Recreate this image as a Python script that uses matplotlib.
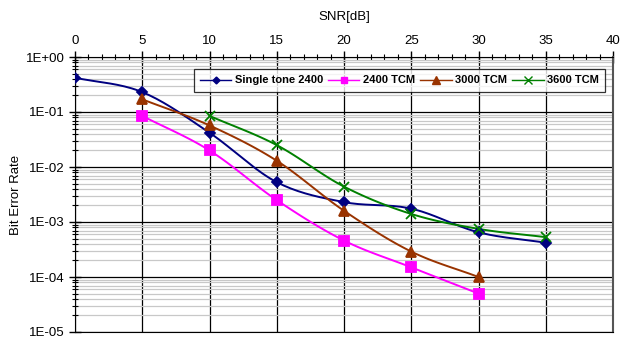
import numpy as np
import matplotlib.pyplot as plt
from matplotlib.ticker import MultipleLocator, LogLocator, FuncFormatter, NullFormatter

plt.rcParams['font.family'] = ['Liberation Sans', 'DejaVu Sans']

# values
snr = [0, 5, 10, 15, 20, 25, 30, 35]
single_2400 = [0.42, 0.23, 0.042, 0.0053, 0.0023, 0.00175, 0.00065, 0.00042]
snr_2400 = [5, 10, 15, 20, 25, 30]
tcm_2400 = [0.085, 0.020, 0.0025, 0.00046, 0.00015, 0.00005]
snr_3000 = [5, 10, 15, 20, 25, 30]
tcm_3000 = [0.17, 0.057, 0.013, 0.0016, 0.00029, 0.0001]
snr_3600 = [10, 15, 20, 25, 30, 35]
tcm_3600 = [0.085, 0.025, 0.0044, 0.0014, 0.00075, 0.00053]


def smooth(x, y, n=20):
    # Excel-style smoothed line: Catmull-Rom through the points in log space
    x = np.asarray(x, float)
    ly = np.log10(y)
    px = np.concatenate([[2 * x[0] - x[1]], x, [2 * x[-1] - x[-2]]])
    py = np.concatenate([[2 * ly[0] - ly[1]], ly, [2 * ly[-1] - ly[-2]]])
    xs, ys = [], []
    t = np.linspace(0, 1, n)
    for i in range(1, len(px) - 2):
        for arr, out in ((px, xs), (py, ys)):
            p0, p1, p2, p3 = arr[i - 1:i + 3]
            out.extend(0.5 * (2 * p1 + (-p0 + p2) * t
                              + (2 * p0 - 5 * p1 + 4 * p2 - p3) * t ** 2
                              + (-p0 + 3 * p1 - 3 * p2 + p3) * t ** 3))
    return np.array(xs), 10 ** np.array(ys)


fig = plt.figure(figsize=(6.28, 3.38), dpi=100)
ax = fig.add_axes([75 / 628, 6 / 338, 538 / 628, 275 / 338])

series = [
    (snr, single_2400, 'Single tone 2400', '#000080', 'D', 5.5),
    (snr_2400, tcm_2400, '2400 TCM', '#FF00FF', 's', 7),
    (snr_3000, tcm_3000, '3000 TCM', '#993300', '^', 7.5),
    (snr_3600, tcm_3600, '3600 TCM', '#008000', 'x', 7.5),
]
handles = []
for x, y, label, color, marker, ms in series:
    sx, sy = smooth(x, y)
    ax.plot(sx, sy, color=color, lw=1.4, zorder=3)
    ax.plot(x, y, ls='none', marker=marker, color=color, ms=ms, mew=1.3, zorder=4)
    h, = ax.plot([], [], color=color, lw=1, marker=marker, ms=ms - 2, label=label)
    handles.append(h)

ax.set_yscale('log')
ax.set_ylim(1e-5, 1)
ax.set_xlim(0, 40)

ax.xaxis.set_ticks_position('top')
ax.xaxis.set_label_position('top')
ax.xaxis.set_major_locator(MultipleLocator(5))
ax.xaxis.set_minor_locator(MultipleLocator(1))
ax.yaxis.set_major_locator(LogLocator(base=10, numticks=10))
ax.yaxis.set_minor_locator(LogLocator(base=10, subs=np.arange(2, 10), numticks=10))
ax.yaxis.set_minor_formatter(NullFormatter())
ax.yaxis.set_major_formatter(FuncFormatter(lambda v, p: '1E%+03d' % round(np.log10(v))))

ax.tick_params(which='both', direction='inout', colors='black', labelsize=9.5)
ax.tick_params(which='major', length=8, width=1)
ax.tick_params(which='minor', length=5, width=0.8)
ax.tick_params(axis='x', which='major', pad=3)

ax.grid(which='major', color='black', lw=0.9, zorder=1)
ax.grid(which='minor', axis='y', color='#c8c8c8', lw=0.9, zorder=0)

for s in ['top', 'left', 'bottom']:
    ax.spines[s].set_color('black')
ax.spines['right'].set_color('#555555')
ax.spines['right'].set_linewidth(1.5)

ax.set_xlabel('SNR[dB]', fontsize=9.5, labelpad=11)
ax.set_ylabel('Bit Error Rate', fontsize=9.5, labelpad=3)

leg = ax.legend(handles=handles, loc='upper right', bbox_to_anchor=(0.985, 0.955),
                ncol=4, frameon=True, fancybox=False, edgecolor='black',
                prop={'weight': 'bold', 'size': 8}, handlelength=2.8,
                handletextpad=0.3, columnspacing=0.5, borderpad=0.55,
                borderaxespad=0)
leg.get_frame().set_linewidth(0.9)
leg.set_zorder(5)

fig.savefig('out.png', dpi=100)
